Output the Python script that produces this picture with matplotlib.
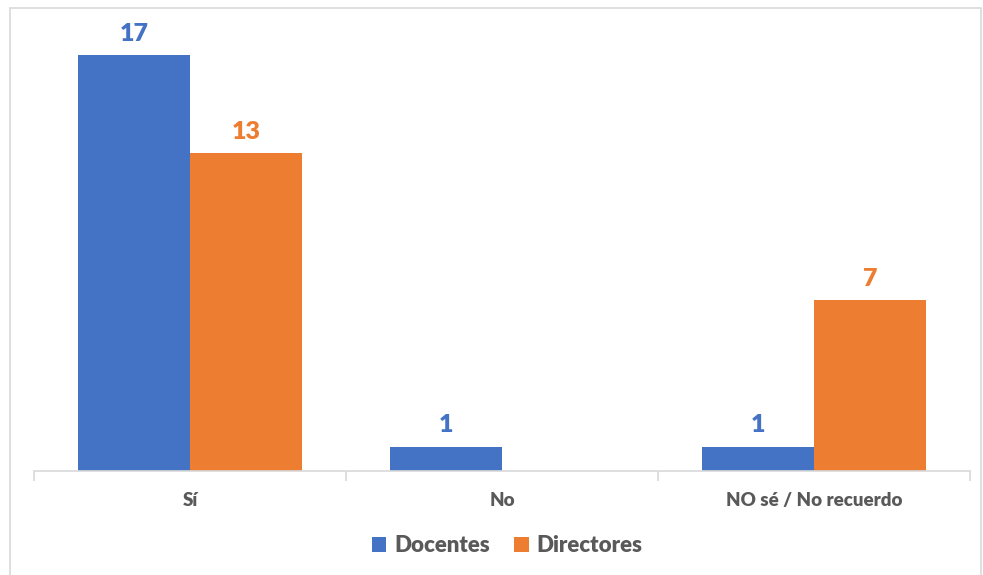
import numpy as np
import matplotlib.pyplot as plt
from matplotlib.patches import Rectangle

categories = ['Sí', 'No', 'NO sé / No recuerdo']
docentes = [17, 1, 1]
directores = [13, 0, 7]

blue = '#4472C4'
orange = '#ED7D31'
grey = '#595959'

plt.rcParams['font.family'] = ['Lato', 'DejaVu Sans']

fig = plt.figure(figsize=(9.83, 5.75), dpi=100)
ax = fig.add_axes([34 / 983, 104 / 575, 936 / 983, 440 / 575])

# outer chart frame
fig.patches.append(Rectangle((10 / 983, -0.05), 971 / 983, 1.05 - 8 / 575,
                             transform=fig.transFigure, fill=False,
                             edgecolor='#D9D9D9', linewidth=1.2))

x = np.arange(len(categories))
w = 0.36
b1 = ax.bar(x - w / 2, docentes, w, color=blue, label='Docentes')
b2 = ax.bar(x + w / 2, directores, w, color=orange, label='Directores')

for bars, vals, col in [(b1, docentes, blue), (b2, directores, orange)]:
    for rect, v in zip(bars, vals):
        if v:
            ax.text(rect.get_x() + rect.get_width() / 2, v + 0.42, str(v),
                    ha='center', va='bottom', color=col, fontsize=18, fontweight='heavy')

ax.set_xlim(-0.5, 2.5)
ax.set_ylim(0, 18)
ax.set_yticks([])
for s in ['top', 'right', 'left']:
    ax.spines[s].set_visible(False)
ax.spines['bottom'].set_color('#D9D9D9')
ax.spines['bottom'].set_linewidth(1.2)

ax.set_xticks(x)
ax.set_xticklabels(categories, fontsize=13.5, fontweight='heavy', color=grey)
ax.tick_params(axis='x', length=0, pad=15)
# tick marks between categories
ax.set_xticks([-0.5, 0.5, 1.5, 2.5], minor=True)
ax.tick_params(axis='x', which='minor', length=7, color='#D9D9D9', width=1.2)

leg = fig.legend(handles=[b1, b2], loc='center', bbox_to_anchor=(507 / 983, 1 - 546 / 575),
                 ncol=2, frameon=False, fontsize=16, handlelength=0.65, handleheight=0.65,
                 handletextpad=0.35, columnspacing=1.1)
for t in leg.get_texts():
    t.set_color(grey)
    t.set_fontweight('heavy')

fig.savefig('out.png', dpi=100)
